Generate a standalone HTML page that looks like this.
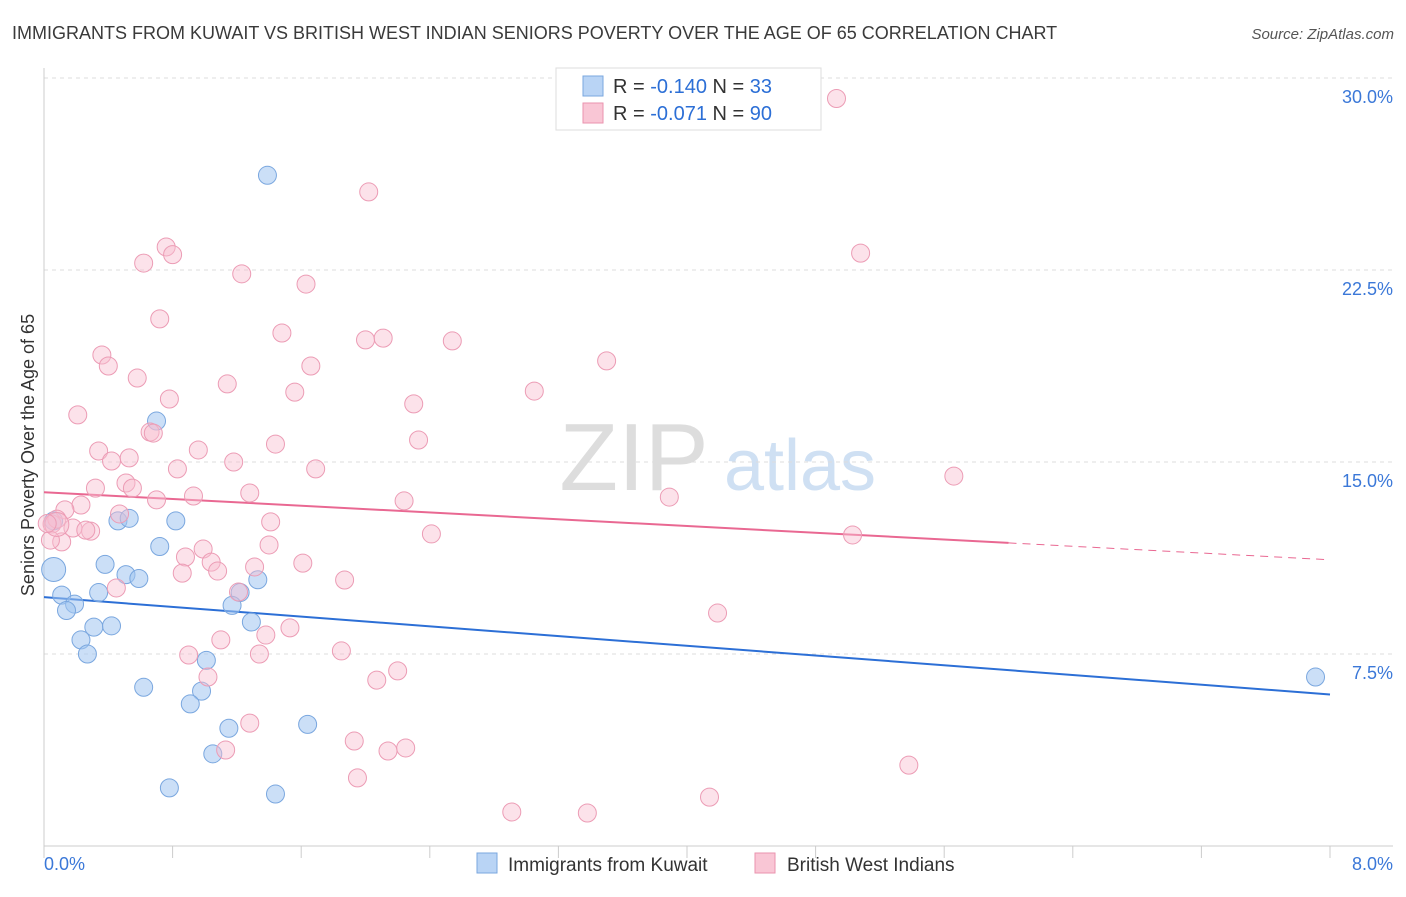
<!DOCTYPE html>
<html><head><meta charset="utf-8"><style>
body{margin:0;background:#fff;font-family:"Liberation Sans",sans-serif}
svg text{font-family:"Liberation Sans",sans-serif}
</style></head><body>
<svg id="chart" width="1406" height="892">
<text x="12" y="39" font-size="18" fill="#3a3a3a">IMMIGRANTS FROM KUWAIT VS BRITISH WEST INDIAN SENIORS POVERTY OVER THE AGE OF 65 CORRELATION CHART</text>
<text x="1394" y="39" font-size="15" fill="#555" text-anchor="end" font-style="italic">Source: ZipAtlas.com</text>
<text x="634" y="490" font-size="96" fill="#ddd" font-family="Liberation Serif" text-anchor="middle">ZIP</text>
<text x="800" y="490" font-size="72" fill="#cfe0f3" text-anchor="middle">atlas</text>
<g id="grid"></g><g id="axes"></g><g id="trends"></g><g id="pts"></g>
<text transform="translate(34,455) rotate(-90)" font-size="18" fill="#333" text-anchor="middle">Seniors Poverty Over the Age of 65</text>
<g>
<rect x="556" y="68" width="265" height="62" fill="#fff" stroke="#ddd"/>
<rect x="583" y="76" width="20" height="20" fill="#b9d4f5" stroke="#7aa7df"/>
<rect x="583" y="103" width="20" height="20" fill="#f9c6d5" stroke="#ea93ae"/>
<text x="613" y="93" font-size="20" fill="#333">R = <tspan fill="#2c6fd6">-0.140</tspan>   N = <tspan fill="#2c6fd6">33</tspan></text>
<text x="613" y="120" font-size="20" fill="#333">R = <tspan fill="#2c6fd6">-0.071</tspan>   N = <tspan fill="#2c6fd6">90</tspan></text>
</g>
<g>
<rect x="477" y="853" width="20" height="20" fill="#b9d4f5" stroke="#7aa7df"/>
<text x="508" y="871" font-size="19" fill="#333">Immigrants from Kuwait</text>
<rect x="755" y="853" width="20" height="20" fill="#f9c6d5" stroke="#ea93ae"/>
<text x="787" y="871" font-size="19" fill="#333">British West Indians</text>
</g>
</svg>
<script>
const yTicks=[7.5,15,22.5,30];
const yTickLabels=["7.5%","15.0%","22.5%","30.0%"];
const xTickLabels=["0.0%","8.0%"];
const blueX=[1.39,0.7,0.46,0.53,0.82,0.72,0.06,0.38,0.51,0.59,1.33,1.22,0.11,0.34,0.19,0.14,1.17,1.29,0.31,0.42,0.23,0.27,1.01,0.62,0.98,0.91,1.15,1.64,1.05,0.78,1.44,7.91,0.06];
const blueY=[26.2,16.6,12.7,12.8,12.7,11.7,10.8,11.0,10.6,10.45,10.4,9.9,9.8,9.9,9.45,9.2,9.4,8.75,8.55,8.6,8.05,7.5,7.25,6.2,6.05,5.55,4.6,4.75,3.6,2.27,2.03,6.6,12.7];
const blueR=[9,9,9,9,9,9,9,9,9,9,9,9,9,9,9,9,9,9,9,9,9,9,9,9,9,9,9,9,9,9,9,9,9].map((v,i)=>i==6?12:9);
const pinkX=[4.93,2.02,0.76,0.8,0.62,1.23,1.63,5.08,0.72,1.48,2.0,2.11,2.54,0.36,0.4,3.5,1.66,0.58,1.14,1.56,3.05,0.78,2.3,0.21,0.66,0.68,1.44,2.33,0.34,0.96,0.53,0.42,1.18,0.83,1.69,5.66,0.32,0.51,0.55,1.28,0.93,3.89,0.7,2.24,0.23,0.13,0.47,1.41,0.05,0.08,0.18,0.29,0.26,2.41,5.03,0.11,0.04,1.4,0.99,0.88,1.04,1.61,1.31,0.86,1.08,1.87,0.45,1.21,4.19,1.53,1.1,1.38,1.85,0.9,1.34,2.2,1.02,2.07,1.28,1.93,1.13,2.25,2.14,1.95,5.38,4.14,2.91,3.38,0.08,0.02];
const pinkY=[29.2,25.55,23.4,23.1,22.77,22.35,21.95,23.16,20.59,20.04,19.77,19.84,19.73,19.18,18.75,18.95,18.75,18.28,18.05,17.73,17.77,17.46,17.27,16.84,16.17,16.13,15.7,15.86,15.43,15.47,15.16,15.04,15.0,14.73,14.73,14.45,13.98,14.18,13.98,13.79,13.67,13.63,13.52,13.48,13.32,13.13,12.97,12.66,12.58,12.77,12.42,12.3,12.34,12.19,12.15,11.88,11.95,11.76,11.6,11.29,11.09,11.05,10.9,10.66,10.74,10.39,10.08,9.92,9.1,8.52,8.05,8.24,7.62,7.46,7.5,6.84,6.6,6.48,4.8,4.1,3.75,3.83,3.71,2.66,3.16,1.91,1.33,1.29,12.56,12.6];
const blueTrend=[9.72,5.92];
const pinkTrend=[13.82,11.18];
const pinkSolidEnd=6.0;
const NS="http://www.w3.org/2000/svg";
const L=44,R=1330,T=78,B=846,YMAX=30,XMAX=8;
const sx=v=>L+v/XMAX*(R-L), sy=v=>B-v/YMAX*(B-T);
function mk(tag,attrs,parent){const e=document.createElementNS(NS,tag);for(const k in attrs)e.setAttribute(k,attrs[k]);document.getElementById(parent).appendChild(e);return e;}
yTicks.forEach((t,i)=>{
 const g=mk('line',{x1:L,x2:1393,y1:sy(t),y2:sy(t),stroke:'#ddd','stroke-dasharray':'4,4'},'grid');
 
 
 const tx=mk('text',{x:1393,y:sy(t)+25,'font-size':18,fill:'#3b78d8','text-anchor':'end'},'grid');
 tx.textContent=yTickLabels[i];
 
 
});
const ax=mk('line',{x1:L,x2:L,y1:68,y2:B,stroke:'#ccc'},'axes');


const bx=mk('line',{x1:L,x2:1393,y1:B,y2:B,stroke:'#ccc'},'axes');


for(let i=0;i<=10;i++){
 const t=mk('line',{x1:sx(i*0.8),x2:sx(i*0.8),y1:B,y2:B+12,stroke:'#ccc'},'axes');
 
 
}
[[0,'start',44],[8,'end',1393]].forEach((d,i)=>{
 const t=mk('text',{x:d[2],y:870,'font-size':18,fill:'#3b78d8','text-anchor':d[1]},'axes');
 t.textContent=xTickLabels[i];
 
 
});
blueX.forEach((x,i)=>{
 const c=mk('circle',{cx:sx(x),cy:sy(blueY[i]),r:blueR[i],fill:'rgba(160,196,240,0.55)',stroke:'#7aa7df','stroke-width':1},'pts');
 
 
});
pinkX.forEach((x,i)=>{
 const c=mk('circle',{cx:sx(x),cy:sy(pinkY[i]),r:(i==88?12:9),fill:'rgba(248,190,208,0.45)',stroke:'#ec9cb5','stroke-width':1},'pts');
 
 
});
const pAt=x=>pinkTrend[0]+(pinkTrend[1]-pinkTrend[0])*x/XMAX;
const bl=mk('line',{x1:sx(0),y1:sy(blueTrend[0]),x2:sx(8),y2:sy(blueTrend[1]),stroke:'#2c6fd6','stroke-width':2},'trends');


const pl=mk('line',{x1:sx(0),y1:sy(pAt(0)),x2:sx(pinkSolidEnd),y2:sy(pAt(pinkSolidEnd)),stroke:'#e96892','stroke-width':2},'trends');


const pd=mk('line',{x1:sx(pinkSolidEnd),y1:sy(pAt(pinkSolidEnd)),x2:sx(8),y2:sy(pAt(8)),stroke:'#e96892','stroke-width':1,'stroke-dasharray':'8,6'},'trends');


</script>
</body></html>
